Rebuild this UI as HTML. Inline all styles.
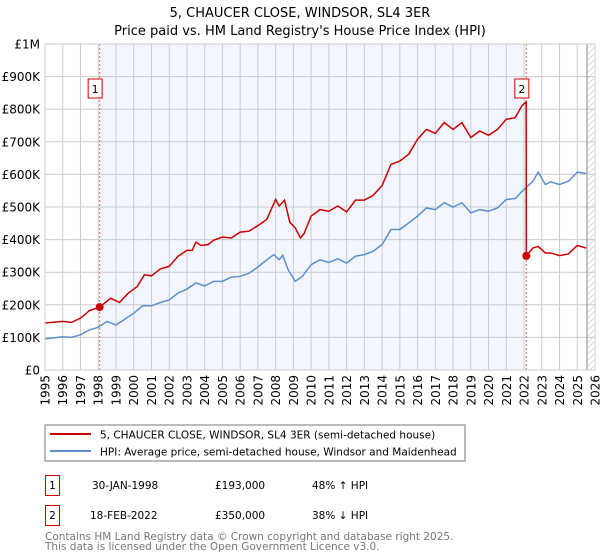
<!DOCTYPE html>
<html><head><meta charset="utf-8"><style>
body{margin:0;background:#fff;font-family:"Liberation Sans","DejaVu Sans",sans-serif}
svg{display:block}
</style></head><body>
<svg id="c" width="600" height="560" xmlns="http://www.w3.org/2000/svg" font-family="DejaVu Sans, Liberation Sans, sans-serif">
<text x="300" y="17" text-anchor="middle" font-size="13">5, CHAUCER CLOSE, WINDSOR, SL4 3ER</text>
<text x="300" y="35" text-anchor="middle" font-size="13">Price paid vs. HM Land Registry's House Price Index (HPI)</text>
<defs><pattern id="h" width="6" height="6" patternUnits="userSpaceOnUse"><path d="M0 6L6 0" stroke="#ccc" stroke-width="0.7"/></pattern></defs>
<g id="plot"></g>
<rect x="45" y="425" width="420" height="36" fill="#fff" stroke="#777"/>
<line x1="50" y1="434" x2="91" y2="434" stroke="#cc0000" stroke-width="2"/>
<text x="100" y="438.5" font-size="10.5">5, CHAUCER CLOSE, WINDSOR, SL4 3ER (semi-detached house)</text>
<line x1="50" y1="451" x2="91" y2="451" stroke="#5b8fd0" stroke-width="2"/>
<text x="100" y="455.5" font-size="10.5">HPI: Average price, semi-detached house, Windsor and Maidenhead</text>
<g font-size="10.5">
<rect x="45.5" y="475.5" width="14" height="20" fill="#fff" stroke="#cc0000"/>
<text x="52.5" y="489" text-anchor="middle">1</text>
<text x="92" y="489">30-JAN-1998</text><text x="215" y="489">£193,000</text><text x="312" y="489">48% ↑ HPI</text>
<rect x="45.5" y="505.5" width="14" height="20" fill="#fff" stroke="#cc0000"/>
<text x="52.5" y="519" text-anchor="middle">2</text>
<text x="90" y="519">18-FEB-2022</text><text x="215" y="519">£350,000</text><text x="312" y="519">38% ↓ HPI</text>
</g>
<text x="45" y="540" font-size="10.5" fill="#777">Contains HM Land Registry data © Crown copyright and database right 2025.</text>
<text x="45" y="550" font-size="10.5" fill="#777">This data is licensed under the Open Government Licence v3.0.</text>
</svg>
<script>
const hpiT=[1995,1996,1996.5,1997,1997.5,1998,1998.5,1999,1999.5,2000,2000.5,2001,2001.5,2002,2002.5,2003,2003.5,2004,2004.5,2005,2005.5,2006,2006.5,2007,2007.5,2007.9,2008.2,2008.4,2008.7,2009.1,2009.5,2010,2010.5,2011,2011.5,2012,2012.5,2013,2013.5,2014,2014.5,2015,2015.5,2016,2016.5,2017,2017.5,2018,2018.5,2019,2019.5,2020,2020.5,2021,2021.5,2022,2022.5,2022.8,2023.2,2023.5,2024,2024.5,2025,2025.5];
const hpiV=[95,102,100,108,123,131,149,138,156,174,197,197,207,215,236,248,267,258,272,272,285,287,297,316,338,354,338,352,308,272,287,323,338,330,341,328,349,354,364,385,431,431,451,472,497,492,513,500,513,482,492,487,497,523,526,554,579,607,569,577,569,579,607,603];
const propT=[1995,1996,1996.5,1997,1997.5,1998.08,1998.7,1999.2,1999.7,2000.2,2000.6,2001,2001.5,2002,2002.5,2003,2003.3,2003.5,2003.8,2004.2,2004.5,2005,2005.5,2006,2006.5,2007,2007.5,2008,2008.2,2008.5,2008.8,2009.1,2009.4,2009.6,2010,2010.5,2011,2011.5,2012,2012.5,2013,2013.5,2014,2014.5,2015,2015.5,2016,2016.5,2017,2017.5,2018,2018.5,2019,2019.5,2020,2020.5,2021,2021.5,2021.9,2022.12,2022.13,2022.5,2022.8,2023.2,2023.5,2024,2024.5,2025,2025.5];
const propV=[144,149,146,159,182,193,220,207,236,256,292,289,310,318,349,367,367,392,382,385,398,408,405,423,426,443,462,523,503,521,453,436,405,418,472,492,487,503,485,521,521,536,566,631,641,662,708,738,726,759,738,759,713,733,720,738,769,774,812,822,350,374,379,359,359,351,356,382,374];
const saleT=[1998.08,2022.13];
const saleV=[193,350];
const yTicks=[0,100,200,300,400,500,600,700,800,900,1000];
const yLabels=["£0","£100K","£200K","£300K","£400K","£500K","£600K","£700K","£800K","£900K","£1M"];
const xYears=[1995,1996,1997,1998,1999,2000,2001,2002,2003,2004,2005,2006,2007,2008,2009,2010,2011,2012,2013,2014,2015,2016,2017,2018,2019,2020,2021,2022,2023,2024,2025,2026];
const X0=45,X1=595,Y0=370,Y1=44;
const xs=t=>X0+(t-1995)/(2026-1995)*(X1-X0);
const ys=v=>Y0-v/1000*(Y0-Y1);
const NS="http://www.w3.org/2000/svg";
const g=document.getElementById('plot');
function mk(tag,attrs,parent){const e=document.createElementNS(NS,tag);for(const k in attrs)e.setAttribute(k,attrs[k]);(parent||g).appendChild(e);return e;}
let e;
e=mk('rect',{x:xs(saleT[0]),y:Y1,width:xs(saleT[1])-xs(saleT[0]),height:Y0-Y1,fill:'#f3f6fe'});


e=mk('rect',{x:xs(2025.55),y:Y1,width:X1-xs(2025.55),height:Y0-Y1,fill:'url(#h)'});


yTicks.forEach((v,i)=>{
 e=mk('line',{x1:X0,x2:X1,y1:ys(v),y2:ys(v),stroke:'#ccc','stroke-width':1});
 
 
 e=mk('text',{x:40,y:ys(v)+4.5,'text-anchor':'end','font-size':12});
 e.textContent=yLabels[i];
 
 
});
xYears.forEach(t=>{
 e=mk('line',{x1:xs(t),x2:xs(t),y1:Y1,y2:Y0,stroke:'#ccc','stroke-width':1});
 
 
 e=mk('text',{x:0,y:0,'text-anchor':'end','font-size':12,transform:`translate(${xs(t)+4.5},${Y0+5}) rotate(-90)`});
 e.textContent=t;
 
 
});
e=mk('line',{x1:xs(2025.55),x2:xs(2025.55),y1:Y1,y2:Y0,stroke:'#888','stroke-width':1});


saleT.forEach((t,i)=>{
 e=mk('line',{x1:xs(t),x2:xs(t),y1:Y1,y2:Y0,stroke:'#e66','stroke-width':1,'stroke-dasharray':'2,2'});
 
 
});
e=mk('polyline',{points:hpiT.map((t,i)=>xs(t)+','+ys(hpiV[i])).join(' '),fill:'none',stroke:'#5b8fd0','stroke-width':1.5});


e=mk('polyline',{points:propT.map((t,i)=>xs(t)+','+ys(propV[i])).join(' '),fill:'none',stroke:'#cc0000','stroke-width':1.5});


saleT.forEach((t,i)=>{
 e=mk('circle',{cx:xs(t),cy:ys(saleV[i]),r:4,fill:'#cc0000'});
 
 
 const cx=xs(t)-4.5,by=79;
 e=mk('rect',{x:cx-7,y:by,width:14,height:19,fill:'#fff',stroke:'#cc0000'});
 
 
 e=mk('text',{x:cx,y:by+14,'text-anchor':'middle','font-size':11});
 e.textContent=String(i+1);
 
 
});
e=mk('rect',{x:X0,y:Y1,width:X1-X0,height:Y0-Y1,fill:'none',stroke:'#ccc'});


</script>
</body></html>
